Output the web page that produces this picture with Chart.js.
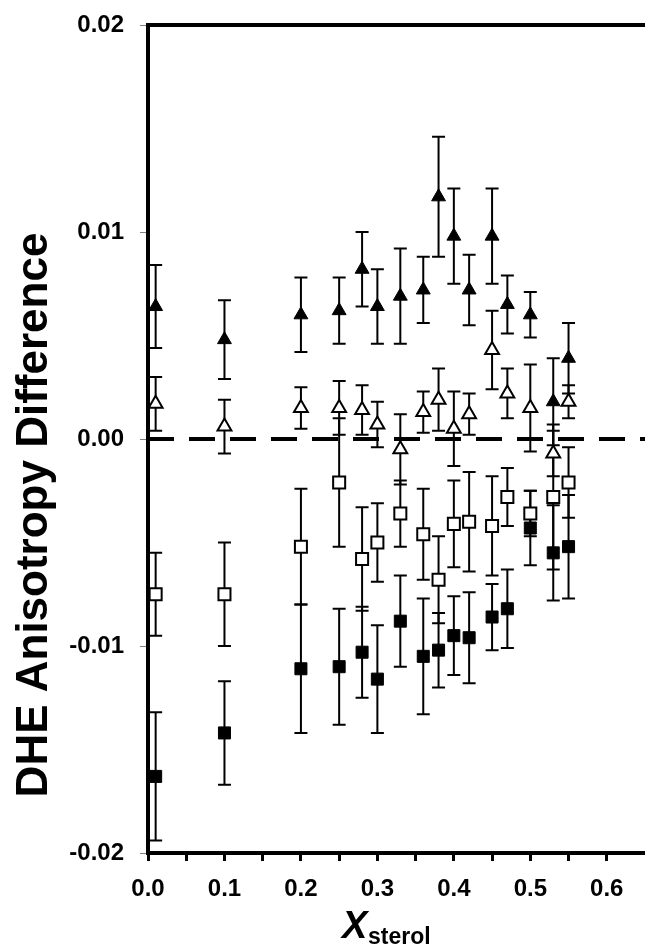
<!DOCTYPE html>
<html>
<head>
<meta charset="utf-8">
<script src="https://cdn.jsdelivr.net/npm/chart.js@4.4.1/dist/chart.umd.min.js"></script>
<style>
  html, body { margin: 0; padding: 0; background: #fff; }
  canvas { display: block; }
</style>
</head>
<body>
<canvas id="anisoChart" width="645" height="947"></canvas>
<script>
// sterol mole fraction, shared by all four sets
var xSterol = [0.01, 0.10, 0.20, 0.25, 0.28, 0.30, 0.33, 0.36, 0.38, 0.40, 0.42, 0.45, 0.47, 0.50, 0.53, 0.55]

// filled triangles
var triFilled    = [0.0064, 0.0048, 0.0060, 0.0062, 0.0082, 0.0064, 0.0069, 0.0072, 0.0117, 0.0098, 0.0072, 0.0098, 0.0065, 0.0060, 0.0018, 0.0039]
var triFilledErr = [0.0020, 0.0019, 0.0018, 0.0016, 0.0018, 0.0018, 0.0023, 0.0016, 0.0029, 0.0023, 0.0017, 0.0023, 0.0014, 0.0011, 0.0021, 0.0017]

// open triangles
var triOpen    = [0.0017, 0.0006, 0.0015, 0.0015, 0.0014, 0.0007, -0.0005, 0.0013, 0.0019, 0.0005, 0.0012, 0.0043, 0.0022, 0.0015, -0.0007, 0.0018]
var triOpenErr = [0.0013, 0.0013, 0.0010, 0.0013, 0.0012, 0.0011, 0.0017, 0.0010, 0.0015, 0.0018, 0.0010, 0.0019, 0.0012, 0.0021, 0.0011, 0.0008]

// open squares
var sqOpen    = [-0.0075, -0.0075, -0.0052, -0.0021, -0.0058, -0.0050, -0.0036, -0.0046, -0.0068, -0.0041, -0.0040, -0.0042, -0.0028, -0.0036, -0.0028, -0.0021]
var sqOpenErr = [0.0020, 0.0025, 0.0028, 0.0031, 0.0025, 0.0019, 0.0016, 0.0022, 0.0021, 0.0021, 0.0024, 0.0024, 0.0014, 0.0011, 0.0035, 0.0017]

// filled squares
var sqFilled    = [-0.0163, -0.0142, -0.0111, -0.0110, -0.0103, -0.0116, -0.0088, -0.0105, -0.0102, -0.0095, -0.0096, -0.0086, -0.0082, -0.0043, -0.0055, -0.0052]
var sqFilledErr = [0.0031, 0.0025, 0.0031, 0.0028, 0.0022, 0.0026, 0.0022, 0.0028, 0.0018, 0.0019, 0.0022, 0.0016, 0.0019, 0.0018, 0.0023, 0.0025]

var xTickValues = [0, 0.05, 0.1, 0.15, 0.2, 0.25, 0.3, 0.35, 0.4, 0.45, 0.5, 0.55, 0.6]
var xTickLabels = ['0.0', '', '0.1', '', '0.2', '', '0.3', '', '0.4', '', '0.5', '', '0.6']
var yTickValues = [-0.02, -0.01, 0, 0.01, 0.02]
var yTickLabels = ['-0.02', '-0.01', '0.00', '0.01', '0.02']

var FONT = "'Liberation Sans', Arial, Helvetica, sans-serif"

function points(ys) {
    return xSterol.map(function (x, i) { return { x: x, y: ys[i] } })
}

// vertical error bars with caps, drawn under the markers
var errorBars = {
    id: 'errorBars',
    beforeDatasetsDraw: function (chart) {
        var ctx = chart.ctx
        var yScale = chart.scales.y
        ctx.save()
        ctx.strokeStyle = '#000'
        ctx.lineWidth = 2
        chart.data.datasets.forEach(function (ds, i) {
            if (!ds.errors) return
            var meta = chart.getDatasetMeta(i)
            meta.data.forEach(function (pt, j) {
                var v = ds.data[j].y
                var e = ds.errors[j]
                var top = yScale.getPixelForValue(v + e)
                var bot = yScale.getPixelForValue(v - e)
                ctx.beginPath()
                ctx.moveTo(pt.x, top)
                ctx.lineTo(pt.x, bot)
                ctx.moveTo(pt.x - 6.5, top)
                ctx.lineTo(pt.x + 6.5, top)
                ctx.moveTo(pt.x - 6.5, bot)
                ctx.lineTo(pt.x + 6.5, bot)
                ctx.stroke()
            })
        })
        ctx.restore()
    }
}

// top frame line and the two axis titles
var frameAndTitles = {
    id: 'frameAndTitles',
    afterDraw: function (chart) {
        var ctx = chart.ctx
        var area = chart.chartArea
        ctx.save()
        ctx.strokeStyle = '#000'
        ctx.lineWidth = 4
        ctx.beginPath()
        ctx.moveTo(area.left - 2, area.top)
        ctx.lineTo(area.right, area.top)
        ctx.stroke()

        ctx.fillStyle = '#000'
        ctx.translate(35, 515)
        ctx.rotate(-Math.PI / 2)
        ctx.textAlign = 'center'
        ctx.textBaseline = 'middle'
        ctx.font = 'bold 44px ' + FONT
        ctx.fillText('DHE Anisotropy Difference', 0, 0)
        ctx.restore()

        ctx.save()
        ctx.fillStyle = '#000'
        ctx.textAlign = 'left'
        ctx.textBaseline = 'alphabetic'
        ctx.font = 'italic bold 38px ' + FONT
        ctx.fillText('X', 342, 938)
        ctx.font = 'bold 23px ' + FONT
        ctx.fillText('sterol', 368, 944)
        ctx.restore()
    }
}

var data = {
    datasets: [
        {
            label: 'filled triangles',
            data: points(triFilled),
            errors: triFilledErr,
            pointStyle: 'triangle',
            pointRadius: 8,
            backgroundColor: '#000',
            borderColor: '#000',
            borderWidth: 1,
            order: 1
        },
        {
            label: 'open triangles',
            data: points(triOpen),
            errors: triOpenErr,
            pointStyle: 'triangle',
            pointRadius: 8,
            backgroundColor: '#fff',
            borderColor: '#000',
            borderWidth: 2,
            order: 2
        },
        {
            label: 'open squares',
            data: points(sqOpen),
            errors: sqOpenErr,
            pointStyle: 'rect',
            pointRadius: 8.5,
            backgroundColor: '#fff',
            borderColor: '#000',
            borderWidth: 2,
            order: 3
        },
        {
            label: 'filled squares',
            data: points(sqFilled),
            errors: sqFilledErr,
            pointStyle: 'rect',
            pointRadius: 8.5,
            backgroundColor: '#000',
            borderColor: '#000',
            borderWidth: 1,
            order: 4
        },
        {
            // zero reference line
            label: 'zero',
            type: 'line',
            data: [{ x: 0, y: 0 }, { x: 0.65, y: 0 }],
            borderColor: '#000',
            borderWidth: 4,
            borderDash: [26, 15],
            pointRadius: 0,
            fill: false,
            order: 10
        }
    ]
}

var config = {
    type: 'scatter',
    data: data,
    plugins: [errorBars, frameAndTitles],
    options: {
        responsive: false,
        animation: false,
        events: [],
        layout: { autoPadding: false, padding: { top: 25, right: 0, left: 0, bottom: 0 } },
        plugins: {
            legend: { display: false },
            tooltip: { enabled: false }
        },
        scales: {
            x: {
                type: 'linear',
                min: 0,
                max: 0.65,
                afterFit: function (s) {
                    s.height = 94
                    s.paddingLeft = 0
                    s.paddingRight = 0
                },
                afterBuildTicks: function (s) {
                    s.ticks = xTickValues.map(function (v) { return { value: v } })
                },
                border: { color: '#000', width: 4 },
                grid: { drawOnChartArea: false, drawTicks: true, tickLength: 8, color: '#000', lineWidth: 3 },
                ticks: {
                    autoSkip: false,
                    maxRotation: 0,
                    padding: 14,
                    color: '#000',
                    font: { family: FONT, size: 24, weight: 'bold' },
                    callback: function (v, i) { return xTickLabels[i] }
                }
            },
            y: {
                min: -0.02,
                max: 0.02,
                afterFit: function (s) {
                    s.width = 148
                    s.paddingTop = 0
                    s.paddingBottom = 0
                },
                afterBuildTicks: function (s) {
                    s.ticks = yTickValues.map(function (v) { return { value: v } })
                },
                border: { color: '#000', width: 4 },
                grid: { drawOnChartArea: false, drawTicks: true, tickLength: 8, color: '#808080', lineWidth: 1 },
                ticks: {
                    padding: 16,
                    color: '#000',
                    font: { family: FONT, size: 24, weight: 'bold' },
                    callback: function (v, i) { return yTickLabels[i] }
                }
            }
        }
    }
}

var canvas = document.getElementById('anisoChart')
var chart = new Chart(canvas, config)
</script>
</body>
</html>
